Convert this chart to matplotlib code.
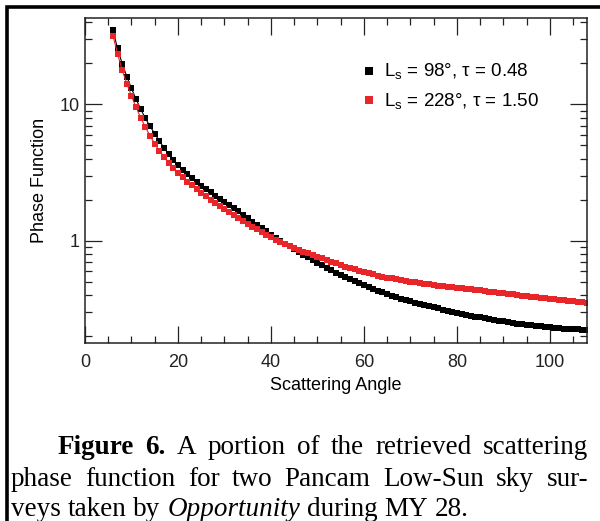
"""
plot.py - retrieved scattering phase function, two Pancam Low-Sun sky surveys
"""
import numpy as np
import matplotlib
matplotlib.use("Agg")
import matplotlib.pyplot as plt
from matplotlib.patches import Rectangle
from matplotlib.ticker import MultipleLocator, LogLocator, FuncFormatter, NullFormatter

# scattering angle (deg)
angles = np.arange(6, 109)

# Ls = 98, tau = 0.48
phase_ls98 = [
    35.0, 25.7, 19.9, 16.0, 13.1, 10.9, 9.2, 7.9, 6.9, 6.1,
    5.4, 4.8, 4.3, 3.9, 3.58, 3.31, 3.07, 2.87, 2.70, 2.54,
    2.39, 2.26, 2.14, 2.03, 1.93, 1.83, 1.73, 1.64, 1.55, 1.46,
    1.38, 1.31, 1.24, 1.17, 1.11, 1.05, 1.00, 0.953, 0.908, 0.866,
    0.826, 0.789, 0.754, 0.721, 0.690, 0.661, 0.634, 0.609, 0.585, 0.563,
    0.542, 0.523, 0.505, 0.488, 0.472, 0.457, 0.443, 0.430, 0.418, 0.407,
    0.396, 0.386, 0.377, 0.368, 0.360, 0.352, 0.345, 0.338, 0.331, 0.325,
    0.319, 0.313, 0.307, 0.302, 0.297, 0.292, 0.287, 0.283, 0.278, 0.274,
    0.270, 0.266, 0.263, 0.259, 0.256, 0.253, 0.250, 0.247, 0.245, 0.242,
    0.240, 0.238, 0.236, 0.234, 0.232, 0.230, 0.229, 0.227, 0.226, 0.225,
    0.224, 0.223, 0.222,
]

# Ls = 228, tau = 1.50
phase_ls228 = [
    32.0, 23.6, 17.8, 14.2, 11.5, 9.5, 7.95, 6.8, 5.88, 5.15,
    4.57, 4.10, 3.72, 3.40, 3.14, 2.92, 2.72, 2.55, 2.39, 2.25,
    2.12, 2.00, 1.89, 1.80, 1.72, 1.63, 1.55, 1.47, 1.40, 1.33,
    1.27, 1.21, 1.155, 1.105, 1.06, 1.02, 0.98, 0.945, 0.912, 0.882,
    0.855, 0.830, 0.807, 0.785, 0.763, 0.742, 0.721, 0.701, 0.682, 0.664,
    0.647, 0.631, 0.616, 0.602, 0.589, 0.577, 0.566, 0.556, 0.546, 0.537,
    0.529, 0.521, 0.514, 0.507, 0.501, 0.495, 0.489, 0.484, 0.479, 0.474,
    0.469, 0.465, 0.460, 0.456, 0.452, 0.448, 0.444, 0.440, 0.436, 0.432,
    0.428, 0.424, 0.420, 0.416, 0.412, 0.408, 0.404, 0.400, 0.396, 0.393,
    0.389, 0.386, 0.382, 0.379, 0.376, 0.372, 0.369, 0.366, 0.363, 0.360,
    0.357, 0.354, 0.351,
]

labels = ["L$_{\\rm s}$ = 98°, τ = 0.48", "L$_{\\rm s}$ = 228°, τ = 1.50"]
colors = ["#000000", "#e8262a"]

caption = [
    [("Figure", "bold", "normal"), ("6.", "bold", "normal"), ("A", "normal", "normal"),
     ("portion", "normal", "normal"), ("of", "normal", "normal"), ("the", "normal", "normal"),
     ("retrieved", "normal", "normal"), ("scattering", "normal", "normal")],
    [(w, "normal", "normal") for w in
     "phase function for two Pancam Low-Sun sky sur-".split()],
    [("veys", "normal", "normal"), ("taken", "normal", "normal"), ("by", "normal", "normal"),
     ("Opportunity", "normal", "italic"), ("during", "normal", "normal"),
     ("MY", "normal", "normal"), ("28.", "normal", "normal")],
]

plt.rcParams['font.family'] = ['Liberation Sans', 'DejaVu Sans']
plt.rcParams['mathtext.fontset'] = 'custom'
plt.rcParams['mathtext.rm'] = 'Liberation Sans'

W, H = 600, 521
fig = plt.figure(figsize=(W / 100, H / 100), dpi=100)
fig.patch.set_facecolor('white')

ax = fig.add_axes([85 / W, 1 - 343 / H, (587 - 85) / W, (343 - 18) / H])

for vals, col, lab in zip([phase_ls98, phase_ls228], colors, labels):
    ax.plot(angles, vals, '-', color=col, linewidth=0.8)
    ax.plot(angles, vals, 's', color=col, markersize=4.8, markeredgewidth=0,
            linestyle='none', label=lab)

ax.set_yscale('log')
ax.set_xlim(0, 108)
ax.set_ylim(0.178, 43)

ax.xaxis.set_major_locator(MultipleLocator(20))
ax.xaxis.set_minor_locator(MultipleLocator(5))
ax.yaxis.set_major_locator(LogLocator(base=10))
ax.yaxis.set_minor_locator(LogLocator(base=10, subs=np.arange(2, 10)))
ax.yaxis.set_major_formatter(FuncFormatter(lambda v, p: f'{v:g}'))
ax.yaxis.set_minor_formatter(NullFormatter())

ax.tick_params(which='both', direction='in', top=True, right=True, width=0.9,
               labelsize=13, colors='#222222')
ax.tick_params(which='major', length=12)
ax.tick_params(which='minor', length=5)
ax.tick_params(axis='x', pad=8)
ax.tick_params(axis='y', pad=4)
for s in ax.spines.values():
    s.set_linewidth(1.1)
    s.set_color('#222222')

ax.set_xlabel('Scattering Angle', fontsize=13, labelpad=4)
ax.set_ylabel('Phase Function', fontsize=13, labelpad=8)

ax.legend(loc='upper left', bbox_to_anchor=(0.535, 0.893), frameon=False,
          fontsize=13.5, handlelength=0.6, handletextpad=0.5, labelspacing=0.5,
          borderpad=0, markerscale=1.1)

# outer frame (left/top edges only fall inside the picture)
fig.add_artist(Rectangle((7 / W, -0.1), 1.0, 1.1 - 7 / H, transform=fig.transFigure,
                         fill=False, linewidth=2.6, edgecolor='black'))

# caption, justified like the journal layout
renderer = fig.canvas.get_renderer()
cap_size = 19.5
lines_y = [454, 486, 516]
lines_x = [(58, 588), (11, 588), (11, None)]
for words, y, (x0, x1) in zip(caption, lines_y, lines_x):
    items = []
    for txt, wt, st in words:
        t = fig.text(0, 1 - y / H, txt, fontsize=cap_size, fontweight=wt, fontstyle=st,
                     family='Liberation Serif', ha='left', va='baseline')
        items.append((t, t.get_window_extent(renderer).width))
    total = sum(w for _, w in items)
    if x1 is None:
        gap = 0.25 * cap_size * 100 / 72
    else:
        gap = (x1 - x0 - total) / (len(items) - 1)
    x = x0
    for t, w in items:
        t.set_x(x / W)
        x += w + gap

plt.savefig("out.png", dpi=100, facecolor='white')
print("saved out.png")
